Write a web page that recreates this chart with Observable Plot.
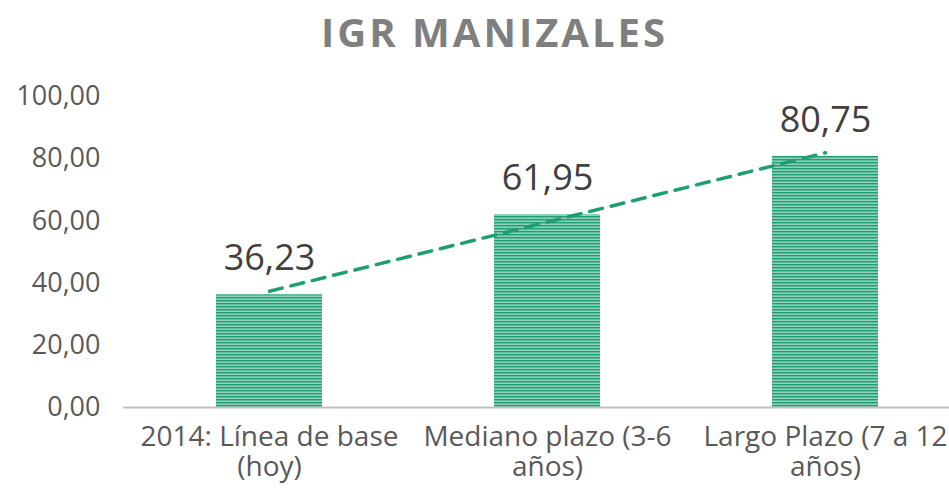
<!DOCTYPE html>
<html>
<head>
<meta charset="utf-8">
<script src="https://cdn.jsdelivr.net/npm/d3@7"></script>
<script src="https://cdn.jsdelivr.net/npm/@observablehq/plot@0.6"></script>
<style>
  html, body { margin: 0; padding: 0; background: #ffffff; }
  #wrap { position: relative; width: 949px; height: 503px; overflow: hidden; }
  #title { position: absolute; left: 20px; top: 4px; width: 949px; text-align: center;
           font-family: "Open Sans", sans-serif; font-weight: 700; font-size: 40px;
           letter-spacing: 3px; color: #7f7f7f; line-height: 56px; }
  #chart { position: absolute; left: 0; top: 0; }
</style>
</head>
<body>
<div id="wrap">
  <div id="chart"></div>
  <div id="title">IGR MANIZALES</div>
</div>
<script>
const categories = ["2014: Línea de base (hoy)", "Mediano plazo (3-6 años)", "Largo Plazo (7 a 12 años)"];
const tickLabels = ["2014: Línea de base\n(hoy)", "Mediano plazo (3-6\naños)", "Largo Plazo (7 a 12\naños)"];
const values = [36.23, 61.95, 80.75];
const yTicks = [0, 20, 40, 60, 80, 100];

const fmt = d => d.toFixed(2).replace(".", ",");
const data = categories.map((c, i) => ({cat: c, value: values[i]}));

// linear trend line (least squares over category index)
const xs = values.map((_, i) => i + 1);
const mx = d3.mean(xs), my = d3.mean(values);
const slope = d3.sum(xs.map((x, i) => (x - mx) * (values[i] - my))) / d3.sum(xs.map(x => (x - mx) ** 2));
const icpt = my - slope * mx;
const trend = categories.map((c, i) => ({cat: c, fit: icpt + slope * xs[i]}));

const chart = Plot.plot({
  width: 949,
  height: 503,
  marginLeft: 123,
  marginRight: 0,
  marginTop: 96,
  marginBottom: 96,
  style: {fontFamily: "'Open Sans', sans-serif", color: "#595959", background: "transparent", overflow: "visible"},
  x: {domain: categories, range: [130, 964], paddingInner: 0.62, paddingOuter: 0.31, label: null},
  y: {domain: [0, 100], range: [407, 96], label: null},
  marks: [
    Plot.barY(data, {x: "cat", y: "value", fill: "url(#stripes)"}),
    Plot.ruleY([0], {stroke: "#c0c0c0", strokeWidth: 2}),
    Plot.line(trend, {x: "cat", y: "fit", stroke: "#1f9e74", strokeWidth: 3.5, strokeDasharray: "13,9"}),
    Plot.text(data, {x: "cat", y: "value", text: d => fmt(d.value), dy: -36, lineAnchor: "middle", fontSize: 36, fill: "#404040"}),
    Plot.axisY({ticks: yTicks, tickFormat: fmt, tickSize: 0, tickPadding: 23, fontSize: 27, label: null}),
    Plot.axisX({tickSize: 0, tickPadding: 17, fontSize: 28, lineHeight: 1.08, label: null,
                tickFormat: d => tickLabels[categories.indexOf(d)]})
  ]
});

const ns = "http://www.w3.org/2000/svg";
const defs = document.createElementNS(ns, "defs");
defs.innerHTML = `<pattern id="stripes" patternUnits="userSpaceOnUse" width="8" height="3">
  <rect width="8" height="3" fill="#1f9e74"/>
  <rect y="1.6" width="8" height="1.1" fill="#bfe6d6"/>
</pattern>`;
chart.insertBefore(defs, chart.firstChild);
document.getElementById("chart").appendChild(chart);
</script>
</body>
</html>
